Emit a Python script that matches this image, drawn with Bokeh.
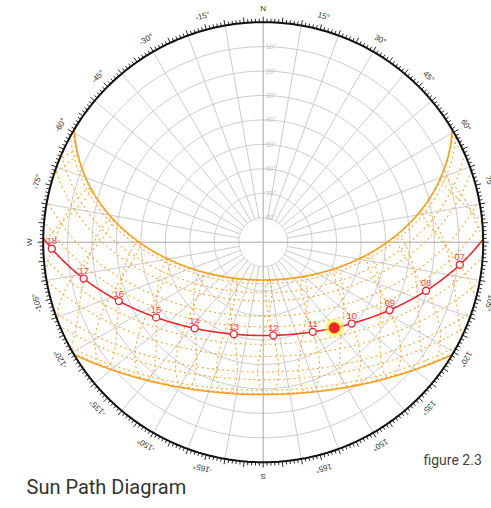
import numpy as np
from bokeh.plotting import figure
from bokeh.models import Range1d, Label
from bokeh.embed import file_html
from bokeh.resources import INLINE
from bokeh.core.properties import value

# ---------------- data / parameters ----------------
LATITUDE = 38.9          # site latitude (deg)
LONGITUDE = -77.04       # site longitude (deg)
TIMEZONE = -5.0          # hours from UTC
TODAY_DAY = 82           # day of year of the highlighted (red) path
SUN_TIME = 10.45         # clock time of the current sun position
HOURS = [7, 8, 9, 10, 11, 12, 13, 14, 15, 16, 17, 18]
HOUR_LABELS = ["07", "08", "09", "10", "11", "12", "13", "14", "15", "16", "17", "18"]
SOLSTICE_DAYS = [172, 355]
MONTH_DAYS = [1, 32, 60, 91, 121, 152, 182, 213, 244, 274, 305, 335]
ANALEMMA_HOURS = [4, 5, 6, 7, 8, 9, 10, 11, 12, 13, 14, 15, 16, 17, 18, 19, 20]
ALT_RINGS = [10, 20, 30, 40, 50, 60, 70, 80]
AZ_TICKS = [0, 15, 30, 45, 60, 75, 90, 105, 120, 135, 150, 165, 180,
            195, 210, 225, 240, 255, 270, 285, 300, 315, 330, 345]
AZ_TEXT = ["N", "15°", "30°", "45°", "60°", "75°", "E", "105°", "120°", "135°", "150°", "165°", "S",
           "-165°", "-150°", "-135°", "-120°", "-105°", "W", "-75°", "-60°", "-45°", "-30°", "-15°"]

# ---------------- layout ----------------
W, H = 491, 506
CX, CY = 262.7, 241.7      # canvas position of the diagram centre
RPX = 220.0                # horizon radius in px
PX = 90.0 / RPX            # data units (zenith degrees) per px

ORANGE = "#f59f1f"
ORANGE_DOT = "#f7a83a"
RED = "#e8262b"
RED_TXT = "#ea4a4f"
GRID = "#cbcbcb"


def solar(n, clock):
    n = np.asarray(n, dtype=float)
    clock = np.asarray(clock, dtype=float)
    g = 2 * np.pi / 365.0 * (n - 1 + (clock - 12) / 24.0)
    decl = (0.006918 - 0.399912 * np.cos(g) + 0.070257 * np.sin(g) - 0.006758 * np.cos(2 * g)
            + 0.000907 * np.sin(2 * g) - 0.002697 * np.cos(3 * g) + 0.00148 * np.sin(3 * g))
    eot = 229.18 * (0.000075 + 0.001868 * np.cos(g) - 0.032077 * np.sin(g)
                    - 0.014615 * np.cos(2 * g) - 0.040849 * np.sin(2 * g))
    st = clock + (eot + 4 * LONGITUDE - 60 * TIMEZONE) / 60.0
    ha = np.radians(15 * (st - 12))
    lat = np.radians(LATITUDE)
    alt = np.degrees(np.arcsin(np.sin(lat) * np.sin(decl) + np.cos(lat) * np.cos(decl) * np.cos(ha)))
    az = np.degrees(np.arctan2(np.sin(ha), np.cos(ha) * np.sin(lat) - np.tan(decl) * np.cos(lat))) + 180
    return alt, az


def proj(alt, az):
    r = 90.0 - np.asarray(alt)
    a = np.radians(az)
    return r * np.sin(a), r * np.cos(a)


def segments(alt, az):
    xs, ys = [], []
    x, y = proj(alt, az)
    vis = alt >= 0
    cur_x, cur_y = [], []
    for i in range(len(alt)):
        if vis[i]:
            cur_x.append(float(x[i])); cur_y.append(float(y[i]))
        else:
            if len(cur_x) > 1:
                xs.append(cur_x); ys.append(cur_y)
            cur_x, cur_y = [], []
    if len(cur_x) > 1:
        xs.append(cur_x); ys.append(cur_y)
    return xs, ys


p = figure(width=W, height=H, output_backend="svg", toolbar_location=None,
           x_axis_type=None, y_axis_type=None,
           x_range=Range1d((0 - CX) * PX, (W - CX) * PX),
           y_range=Range1d((CY - H) * PX, CY * PX),
           min_border=0, outline_line_color=None)
p.grid.visible = False
p.background_fill_color = "white"
p.border_fill_color = "white"

t = np.linspace(0, 2 * np.pi, 361)

# altitude rings
rx, ry = [], []
for a in ALT_RINGS:
    r = 90 - a
    rx.append(list(r * np.cos(t))); ry.append(list(r * np.sin(t)))
p.multi_line(rx, ry, line_color=GRID, line_width=1)

# radial azimuth lines every 10 deg
lx, ly = [], []
for az in range(0, 360, 10):
    if az % 90 == 0:
        continue
    a = np.radians(az)
    lx.append([10 * np.sin(a), 90 * np.sin(a)]); ly.append([10 * np.cos(a), 90 * np.cos(a)])
p.multi_line(lx, ly, line_color=GRID, line_width=1)
p.multi_line([[0, 0], [-90, 90]], [[-90, 90], [0, 0]], line_color="#a8a8a8", line_width=1)

# altitude labels
p.text(x=[2.5 * PX] * len(ALT_RINGS), y=[90 - a for a in ALT_RINGS],
       text=[f"{a}°" for a in ALT_RINGS], text_font=value("Liberation Sans"),
       text_font_size="7px", text_color="#c4c4c4", text_align="left", text_baseline="middle")

# analemmas (dotted)
days = np.arange(1, 367)
ax, ay = [], []
for h in ANALEMMA_HOURS:
    alt, az = solar(days, np.full(days.shape, float(h)))
    sx, sy = segments(alt, az)
    ax += sx; ay += sy
p.multi_line(ax, ay, line_color=ORANGE_DOT, line_width=1.1, line_dash="2 3")

# monthly day paths (dotted)
clk = np.arange(0, 24.0001, 1 / 60.0)
mx, my = [], []
for d in MONTH_DAYS:
    alt, az = solar(np.full(clk.shape, d), clk)
    sx, sy = segments(alt, az)
    mx += sx; my += sy
p.multi_line(mx, my, line_color=ORANGE_DOT, line_width=1.1, line_dash="2 3")

# solstice paths
sx_all, sy_all = [], []
for d in SOLSTICE_DAYS:
    alt, az = solar(np.full(clk.shape, d), clk)
    sx, sy = segments(alt, az)
    sx_all += sx; sy_all += sy
p.multi_line(sx_all, sy_all, line_color=ORANGE, line_width=1.6)

# today's path
alt, az = solar(np.full(clk.shape, TODAY_DAY), clk)
tx, ty = segments(alt, az)
p.multi_line(tx, ty, line_color=RED, line_width=1.6)

# hour markers
halt, haz = solar(np.full(len(HOURS), TODAY_DAY), np.array(HOURS, dtype=float))
hx, hy = proj(halt, haz)
p.scatter(hx, hy, size=7, marker="circle", fill_color="white", line_color=RED, line_width=1.3)
p.text(x=list(hx), y=list(hy + 4.5 * PX), text=HOUR_LABELS, text_font=value("Liberation Sans"),
       text_font_size="9.5px", text_color=RED_TXT, text_align="center", text_baseline="bottom")

# sun
salt, saz = solar(np.array([TODAY_DAY]), np.array([SUN_TIME]))
sx_, sy_ = proj(salt, saz)
p.scatter(sx_, sy_, size=20, marker="circle", fill_color="#fff27a", fill_alpha=0.55, line_color=None)
p.scatter(sx_, sy_, size=14, marker="circle", fill_color="#ffe600", fill_alpha=0.6, line_color=None)
p.scatter(sx_, sy_, size=10, marker="circle", fill_color=RED, line_color=RED)

# outer horizon circle and ticks
p.line(list(90 * np.cos(t)), list(90 * np.sin(t)), line_color="#111111", line_width=2)
kx, ky = [], []
for az in range(0, 360):
    ln = 5.5 if az % 5 == 0 else 3.5
    a = np.radians(az)
    r0, r1 = 90, 90 + ln * PX
    kx.append([r0 * np.sin(a), r1 * np.sin(a)]); ky.append([r0 * np.cos(a), r1 * np.cos(a)])
p.multi_line(kx, ky, line_color="#111111", line_width=0.9)

# azimuth labels
LR = 234 * PX
ang = np.radians(AZ_TICKS)
p.text(x=list(LR * np.sin(ang)), y=list(LR * np.cos(ang)), text=AZ_TEXT,
       angle=list(-ang), text_font=value("Liberation Sans"), text_font_size="8px",
       text_color="#333333", text_align="center", text_baseline="middle")

p.add_layout(Label(x=423, y=H - 467, x_units="screen", y_units="screen", text="figure 2.3",
                   text_font="Roboto", text_font_size="14px", text_color="#444444"))
p.add_layout(Label(x=26, y=H - 498, x_units="screen", y_units="screen", text="Sun Path Diagram",
                   text_font="Roboto", text_font_size="20px", text_color="#333333"))

open("out.html", "w").write(file_html(p, INLINE))
